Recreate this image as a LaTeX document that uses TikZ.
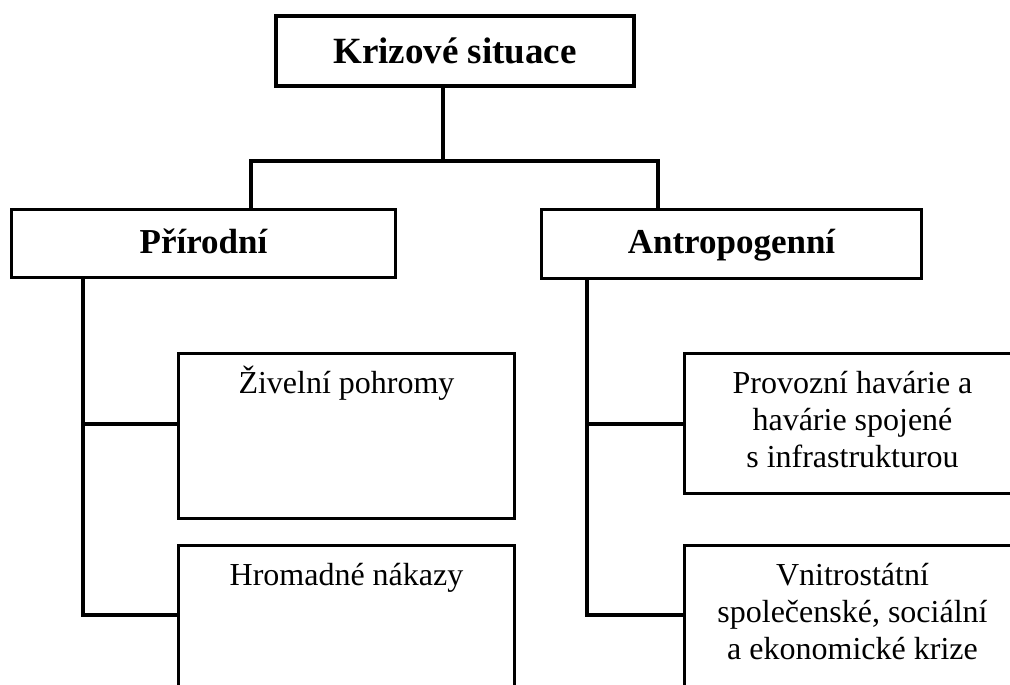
\documentclass[tikz,border=0pt]{standalone}
\usepackage{fontspec}
\setmainfont{Liberation Serif}
\begin{document}
\begin{tikzpicture}[x=1pt,y=-1pt,
  conn/.style={line width=3.2pt,line join=miter,line cap=rect},
  headbox/.style={draw,line width=3.2pt,inner sep=0pt,
    text height=26pt,text depth=7pt,
    font=\fontsize{35}{40}\selectfont\bfseries},
  leafbox/.style={draw,line width=3.2pt,inner sep=0pt,
    minimum width=336pt,minimum height=165pt,
    font=\fontsize{32}{37}\selectfont}]
\newcommand{\leaftext}[2]{\parbox[c][#1pt][t]{330pt}{\centering\rule{0pt}{40pt}#2}}
\useasboundingbox (0,0) rectangle (1010,685);
\clip (0,0) rectangle (1010,685);

% top level
\node[headbox,minimum width=358pt,minimum height=70pt,
  text height=30pt,text depth=5.4pt,
  font=\fontsize{37}{42}\selectfont\bfseries] (top) at (455,51) {Krizové situace};

% second level
\node[headbox,minimum width=384pt,minimum height=68pt] (pri) at (203.5,243.5) {Přírodní};
\node[headbox,minimum width=380pt,minimum height=69pt] (ant) at (731.5,244) {Antropogenní};

% leaves
\node[leafbox] (ziv) at (346.5,436) {\leaftext{165}{Živelní pohromy}};
\node[leafbox] (hro) at (346.5,628) {\leaftext{165}{Hromadné nákazy}};
\node[leafbox,minimum height=140pt] (pro) at (852.5,423.5)
  {\leaftext{140}{Provozní havárie a\\ havárie spojené\\ s~infrastrukturou}};
\node[leafbox] (vni) at (852.5,628)
  {\leaftext{165}{Vnitrostátní\\ společenské, sociální\\ a~ekonomické krize}};

% junction points
\coordinate (jt) at (443,161);
\coordinate (jl) at (251,161);
\coordinate (jr) at (658,161);
\coordinate (l1) at (83,424);
\coordinate (l2) at (83,615);
\coordinate (r1) at (587,424);
\coordinate (r2) at (587,615);

% connectors
\draw[conn] (top.south -| jt) -- (jt);
\draw[conn] (pri.north -| jl) -- (jl) -- (jr) -- (ant.north -| jr);
\draw[conn] (pri.south -| l1) -- (l2) -- (hro.west |- l2);
\draw[conn] (l1) -- (ziv.west |- l1);
\draw[conn] (ant.south -| r1) -- (r2) -- (vni.west |- r2);
\draw[conn] (r1) -- (pro.west |- r1);
\end{tikzpicture}
\end{document}
